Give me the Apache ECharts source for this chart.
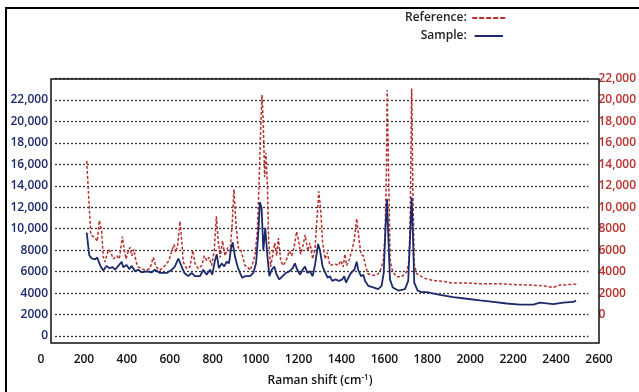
<!DOCTYPE html>
<html>
<head>
<meta charset="utf-8">
<script src="https://cdn.jsdelivr.net/npm/echarts@6/dist/echarts.min.js"></script>
<style>
  html, body { margin: 0; padding: 0; background: #fff; }
  #chart { width: 639px; height: 392px; }
</style>
</head>
<body>
<div id="chart"></div>
<script>
// Sample spectrum (blue, left axis)
const sampleShift = [213, 225, 236, 252, 262, 278, 290, 306, 318, 334, 345, 360, 376, 383, 399, 411, 423, 438, 453, 469, 492, 516, 531, 554, 562, 586, 609, 624, 640, 652, 668, 686, 702, 717, 741, 756, 772, 787, 798, 811, 819, 829, 842, 854, 865, 876, 885, 893, 904, 916, 927, 938, 950, 958, 974, 989, 1002, 1012, 1020, 1028, 1036, 1045, 1054, 1064, 1075, 1087, 1098, 1110, 1126, 1141, 1157, 1173, 1183, 1194, 1207, 1219, 1230, 1241, 1253, 1266, 1278, 1291, 1300, 1312, 1325, 1336, 1346, 1357, 1373, 1388, 1404, 1413, 1421, 1432, 1444, 1460, 1471, 1478, 1491, 1502, 1510, 1525, 1548, 1571, 1587, 1597, 1604, 1612, 1618, 1626, 1639, 1665, 1696, 1711, 1719, 1727, 1733, 1739, 1755, 1774, 1797, 1859, 1921, 1983, 2045, 2107, 2170, 2232, 2294, 2325, 2387, 2433, 2480, 2493];
const sampleIntensity = [9110, 6930, 6620, 6530, 6710, 5850, 5470, 5900, 5690, 5780, 5530, 5900, 6310, 5780, 6000, 5590, 5900, 5380, 5530, 5290, 5380, 5290, 5530, 5220, 5060, 5220, 5530, 5850, 6620, 6000, 5220, 4910, 5220, 4910, 4910, 5530, 5060, 5530, 5060, 6460, 7020, 5690, 6150, 5850, 6310, 6150, 7550, 8180, 6780, 5850, 5220, 4760, 4910, 5060, 4910, 5220, 6150, 8950, 12060, 11440, 7390, 9580, 7090, 4910, 5530, 5850, 5060, 4600, 4910, 5220, 5380, 5690, 6150, 5530, 5060, 5530, 5850, 5220, 5380, 4910, 6150, 8020, 7390, 5850, 5220, 4760, 4910, 4450, 4600, 4450, 4600, 4910, 4290, 4760, 5220, 5530, 6310, 5530, 4910, 5060, 4450, 3980, 3820, 3660, 3980, 5220, 8950, 12370, 8950, 4600, 3820, 3520, 3660, 4450, 8330, 12520, 8950, 4290, 3520, 3360, 3360, 3110, 2890, 2730, 2570, 2420, 2270, 2170, 2170, 2360, 2210, 2360, 2420, 2550];

// Reference spectrum (red, right axis)
const referenceShift = [213, 232, 241, 252, 262, 272, 283, 290, 298, 314, 325, 337, 353, 365, 379, 388, 396, 407, 415, 423, 433, 443, 453, 469, 485, 508, 523, 536, 554, 578, 596, 609, 620, 628, 637, 648, 656, 663, 679, 694, 707, 718, 733, 749, 761, 772, 783, 795, 807, 817, 826, 835, 846, 857, 870, 881, 891, 899, 908, 919, 930, 943, 950, 961, 974, 986, 997, 1008, 1017, 1025, 1030, 1036, 1042, 1048, 1055, 1061, 1070, 1080, 1089, 1098, 1106, 1117, 1129, 1145, 1157, 1168, 1179, 1191, 1201, 1210, 1222, 1231, 1243, 1253, 1266, 1277, 1287, 1294, 1303, 1312, 1323, 1334, 1346, 1354, 1370, 1385, 1398, 1408, 1416, 1424, 1435, 1448, 1460, 1471, 1482, 1491, 1502, 1510, 1522, 1541, 1564, 1579, 1595, 1603, 1609, 1613, 1620, 1627, 1639, 1657, 1681, 1704, 1715, 1721, 1727, 1733, 1739, 1750, 1774, 1789, 1828, 1874, 1921, 1983, 2061, 2139, 2216, 2294, 2356, 2385, 2418, 2496];
const referenceIntensity = [14050, 6900, 7090, 6620, 6280, 8300, 7210, 4760, 4290, 5500, 5220, 4570, 4880, 4570, 6740, 5500, 4570, 5340, 5690, 4880, 5500, 4290, 3800, 3640, 3480, 3640, 4730, 3820, 3480, 3940, 4410, 5340, 5970, 5220, 5970, 8210, 6280, 4260, 3640, 3800, 5410, 4100, 3640, 3940, 4880, 4410, 4730, 3940, 5340, 8700, 6280, 4730, 6340, 4880, 5660, 5340, 8020, 11310, 8140, 5660, 5500, 4570, 3940, 3850, 3480, 4100, 5040, 7210, 12490, 18090, 20420, 17460, 12490, 14830, 11560, 6280, 3800, 5040, 6130, 4880, 6590, 4410, 3940, 4570, 5340, 4880, 5660, 7210, 6280, 5040, 5970, 6900, 5340, 6130, 4570, 5660, 8770, 11100, 9390, 6280, 4570, 5190, 3940, 3940, 4100, 3940, 4410, 3800, 5040, 3940, 4410, 5340, 6430, 8460, 6430, 5040, 4880, 4100, 3170, 3010, 3010, 3330, 4410, 6900, 12490, 20890, 12490, 4410, 3330, 2860, 2860, 3330, 4410, 9390, 21050, 10940, 4100, 3170, 2860, 2700, 2490, 2400, 2240, 2240, 2170, 2170, 2080, 2050, 1930, 1820, 2050, 2140];

const pairs = (xs, ys) => xs.map((x, i) => [x, ys[i]]);

const navy = '#1c2a6c';
const red = '#b8302c';
const font = 'Open Sans';
const fmt = v => (v >= 10000 ? v.toLocaleString('en-US') : String(v));

const gridTop = 78.6;
const gridBottom = 56;

const chart = echarts.init(document.getElementById('chart'));
chart.setOption({
  backgroundColor: '#fff',
  animation: false,
  textStyle: { fontFamily: font },
  legend: {
    orient: 'vertical',
    left: 400,
    top: 7,
    align: 'right',
    itemGap: 6,
    itemWidth: 34,
    itemHeight: 2,
    textStyle: { fontFamily: font, fontSize: 12, fontWeight: 600, color: '#222', width: 64 },
    data: [
      { name: 'Reference:', icon: 'path://M0,0h5v2h-5zM7,0h5v2h-5zM14,0h5v2h-5zM21,0h5v2h-5zM28,0h5v2h-5z', itemStyle: { color: red } },
      { name: 'Sample:', icon: 'path://M0,0h34v2.4h-34z', itemStyle: { color: navy } }
    ]
  },
  grid: [
    // data grid (x axis 0 sits left of the box)
    { left: 41, right: 40, top: gridTop, bottom: gridBottom },
    // grid for the dotted lines and y labels
    { left: 55, right: 44, top: gridTop, bottom: gridBottom }
  ],
  xAxis: [
    {
      gridIndex: 0, type: 'value', min: 0, max: 2600, interval: 200,
      axisLine: { show: false }, axisTick: { show: false }, splitLine: { show: false },
      axisLabel: { margin: 27, color: '#111', fontSize: 12, fontWeight: 600, fontFamily: font, formatter: v => String(v) },
      name: 'Raman shift (cm{sup|-1})',
      nameLocation: 'middle',
      nameGap: 47,
      nameTextStyle: {
        color: '#111', fontSize: 12, fontWeight: 600, fontFamily: font,
        rich: { sup: { fontSize: 8, verticalAlign: 'top', padding: [0, 0, 6, 0], color: '#111', fontWeight: 600 } }
      }
    },
    { gridIndex: 1, type: 'value', min: 0, max: 1, show: false }
  ],
  yAxis: [
    { gridIndex: 0, type: 'value', min: 0, max: 24000, interval: 2000, show: false },
    { gridIndex: 0, type: 'value', min: -2000, max: 22000, interval: 2000, show: false, position: 'right' },
    {
      gridIndex: 1, type: 'value', min: 0, max: 24000, interval: 2000, position: 'left',
      axisLine: { show: false }, axisTick: { show: false },
      splitLine: { show: true, lineStyle: { color: '#333', type: [2, 2], width: 1.3 } },
      axisLabel: {
        margin: 7, color: navy, fontSize: 12, fontWeight: 600, fontFamily: font,
        formatter: v => (v >= 24000 ? '' : fmt(v))
      }
    },
    {
      gridIndex: 1, type: 'value', min: -2000, max: 22000, interval: 2000, position: 'right',
      axisLine: { show: false }, axisTick: { show: false }, splitLine: { show: false },
      axisLabel: {
        margin: 10, color: red, fontSize: 12, fontWeight: 600, fontFamily: font,
        formatter: v => (v < 0 ? '' : fmt(v))
      }
    }
  ],
  series: [
    {
      name: 'Reference:', type: 'line', xAxisIndex: 0, yAxisIndex: 1,
      data: pairs(referenceShift, referenceIntensity),
      showSymbol: false, symbol: 'none',
      itemStyle: { color: red },
      lineStyle: { color: red, width: 1.5, type: [3, 2] }
    },
    {
      name: 'Sample:', type: 'line', xAxisIndex: 0, yAxisIndex: 0,
      data: pairs(sampleShift, sampleIntensity),
      showSymbol: false, symbol: 'none',
      itemStyle: { color: navy },
      lineStyle: { color: navy, width: 1.8 }
    }
  ],
  graphic: [
    // outer frame
    { type: 'rect', shape: { x: 6, y: 8, width: 700, height: 500 }, style: { fill: 'none', stroke: '#000', lineWidth: 2 }, silent: true },
    // plot box
    { type: 'rect', shape: { x: 51, y: 79, width: 548, height: 264 }, style: { fill: 'none', stroke: '#111', lineWidth: 1.5 }, silent: true, z: 10 }
  ]
});
</script>
</body>
</html>
